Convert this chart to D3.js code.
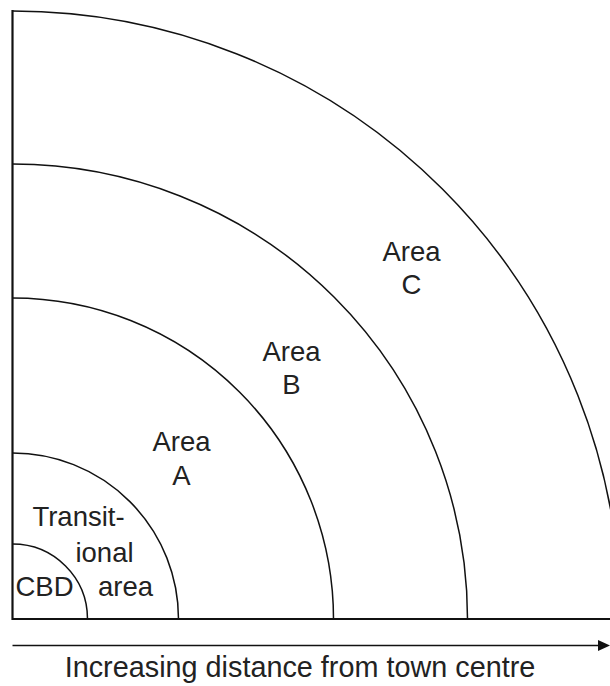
<!DOCTYPE html>
<html>
<head>
<meta charset="utf-8">
<script src="https://cdn.jsdelivr.net/npm/d3@7"></script>
<style>
  html, body { margin: 0; padding: 0; background: #fff; }
  svg { display: block; }
  text { font-family: "Liberation Sans", Arial, sans-serif; fill: #222; }
</style>
</head>
<body>
<svg id="chart" width="610" height="686"></svg>
<script>
// Zone outer boundaries (distance from town centre, arbitrary units)
const zoneNames = ["CBD", "Transitional area", "Area A", "Area B", "Area C"];
const zoneRadii = [75, 166, 321, 455, 608];
// Label lines for each zone, and their placement (distance along x, distance along y) in the same units
const labelLines = [["CBD"], ["Transit-", "ional", "area"], ["Area", "A"], ["Area", "B"], ["Area", "C"]];
const labelX = [[32], [66, 92, 113], [169, 169], [279, 279], [399, 399]];
const labelY = [[23], [93, 57, 23], [168, 134], [258, 225], [358, 325]];
const axisTitle = "Increasing distance from town centre";

const svg = d3.select("#chart");
const ox = 12.5, oy = 619;
const x = d3.scaleLinear().domain([0, 608]).range([ox, ox + 608]);
const y = d3.scaleLinear().domain([0, 608]).range([oy, oy - 608]);

// Arcs (quarter circles)
zoneRadii.forEach(r => {
  const p = d3.path();
  const rx = x(r) - x(0);
  p.moveTo(ox, oy - rx);
  p.arc(ox, oy, rx, -Math.PI / 2, 0, false);
  svg.append("path").attr("d", p.toString())
    .attr("fill", "none").attr("stroke", "#111").attr("stroke-width", 1.5);
});

// Axes
svg.append("line").attr("x1", ox).attr("y1", y(608) - 1).attr("x2", ox).attr("y2", oy + 1)
  .attr("stroke", "#111").attr("stroke-width", 2.2);
svg.append("line").attr("x1", ox).attr("y1", oy).attr("x2", 610).attr("y2", oy)
  .attr("stroke", "#111").attr("stroke-width", 2.2);

// Arrow
const ay = 645.5;
svg.append("line").attr("x1", ox).attr("y1", ay).attr("x2", 600).attr("y2", ay)
  .attr("stroke", "#111").attr("stroke-width", 1.6);
svg.append("path").attr("d", `M598,${ay - 5.5}L610,${ay}L598,${ay + 5.5}Z`).attr("fill", "#111");

// Zone labels
labelLines.forEach((lines, i) => {
  lines.forEach((t, j) => {
    svg.append("text")
      .attr("x", x(labelX[i][j])).attr("y", y(labelY[i][j]))
      .attr("text-anchor", "middle")
      .attr("font-size", 27.5)
      .text(t);
  });
});

// Axis title
svg.append("text").attr("x", 300).attr("y", 677)
  .attr("text-anchor", "middle").attr("font-size", 28.8).text(axisTitle);
</script>
</body>
</html>
